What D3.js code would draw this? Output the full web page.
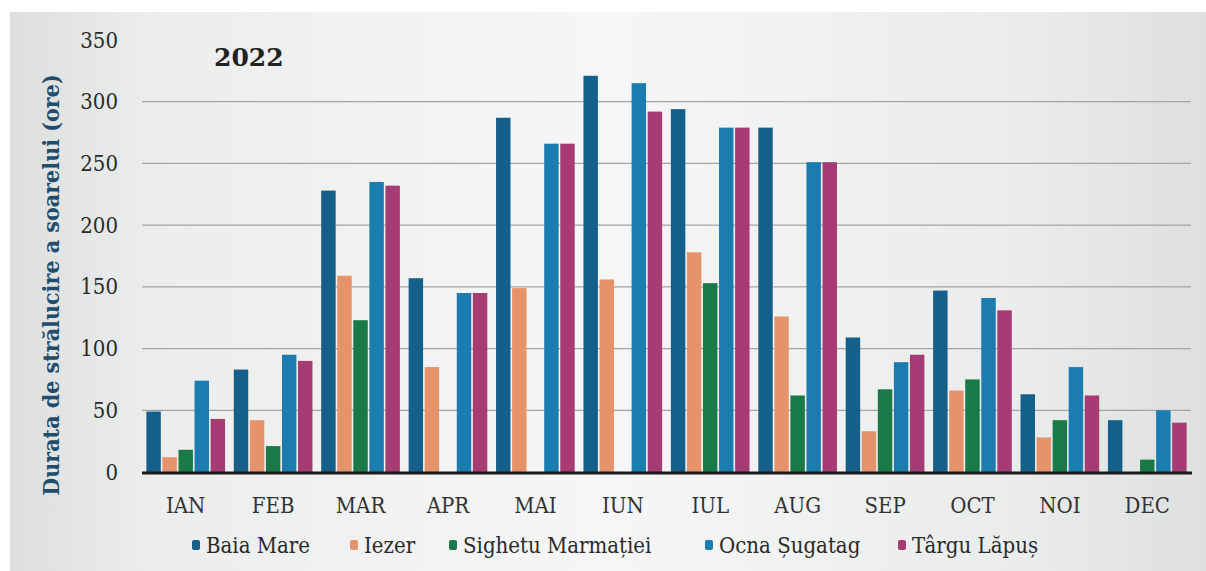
<!DOCTYPE html>
<html lang="ro">
<head>
<meta charset="utf-8">
<title>Durata de strălucire a soarelui 2022</title>
<script src="https://cdn.jsdelivr.net/npm/d3@7"></script>
<style>
  body { margin: 0; background: #ffffff; }
  svg { display: block; }
</style>
</head>
<body>
<script>
// categories
var luni = ["IAN", "FEB", "MAR", "APR", "MAI", "IUN", "IUL", "AUG", "SEP", "OCT", "NOI", "DEC"];
var statii = ["Baia Mare", "Iezer", "Sighetu Marmației", "Ocna Șugatag", "Târgu Lăpuș"];

// series values (ore)
var baiaMare   = [49, 83, 228, 157, 287, 321, 294, 279, 109, 147, 63, 42];
var iezer      = [12, 42, 159, 85, 149, 156, 178, 126, 33, 66, 28, 0];
var sighetu    = [18, 21, 123, 0, 0, 0, 153, 62, 67, 75, 42, 10];
var ocna       = [74, 95, 235, 145, 266, 315, 279, 251, 89, 141, 85, 50];
var targuLapus = [43, 90, 232, 145, 266, 292, 279, 251, 95, 131, 62, 40];

var yTicks = [0, 50, 100, 150, 200, 250, 300, 350];
var culori = ["#15608b", "#e6936b", "#1a7a47", "#1b7cb0", "#a73b73"];

var serii = [baiaMare, iezer, sighetu, ocna, targuLapus];

var w = 1206, h = 571;
var font = "'DejaVu Serif Condensed', 'DejaVu Serif', serif";

var svg = d3.select("body").append("svg")
  .attr("width", w)
  .attr("height", h);

// scanned-page look
var defs = svg.append("defs");
var grad = defs.append("linearGradient").attr("id", "fundal").attr("x1", "0").attr("x2", "1");
grad.append("stop").attr("offset", "0").attr("stop-color", "#dcdfde");
grad.append("stop").attr("offset", "0.12").attr("stop-color", "#eceeed");
grad.append("stop").attr("offset", "0.5").attr("stop-color", "#f5f6f5");
grad.append("stop").attr("offset", "0.85").attr("stop-color", "#eaeceb");
grad.append("stop").attr("offset", "1").attr("stop-color", "#dde0df");

svg.append("rect").attr("x", 10).attr("y", 12).attr("width", w - 10).attr("height", h - 12)
  .attr("fill", "url(#fundal)");

var x = d3.scaleBand()
  .domain(luni)
  .range([142, 1191])
  .paddingInner(0.1)
  .paddingOuter(0.05);

var xs = d3.scaleBand()
  .domain(d3.range(statii.length))
  .range([0, x.bandwidth()])
  .paddingInner(0.1);

var y = d3.scaleLinear()
  .domain([0, 350])
  .range([472, 40]);

// gridlines + y labels
var yAxis = d3.axisLeft(y)
  .tickValues(yTicks)
  .tickSize(0)
  .tickPadding(0);

var gy = svg.append("g")
  .attr("transform", "translate(118,0)")
  .call(yAxis);
gy.select(".domain").remove();
gy.selectAll("text")
  .attr("font-family", font)
  .attr("font-size", 22)
  .attr("fill", "#2b2b2b");

svg.append("g").selectAll("line")
  .data(yTicks.filter(function(d) { return d > 0 && d < 350; }))
  .enter().append("line")
  .attr("x1", 142).attr("x2", 1191)
  .attr("y1", function(d) { return y(d); })
  .attr("y2", function(d) { return y(d); })
  .attr("stroke", "#a3a5a5")
  .attr("stroke-width", 1.2);

// bars
var grupuri = svg.append("g").selectAll("g")
  .data(luni)
  .enter().append("g")
  .attr("transform", function(d) { return "translate(" + x(d) + ",0)"; });

grupuri.selectAll("rect")
  .data(function(d, i) { return serii.map(function(s, j) { return { k: j, v: s[i] }; }); })
  .enter().append("rect")
  .attr("x", function(d) { return xs(d.k); })
  .attr("y", function(d) { return y(d.v); })
  .attr("width", xs.bandwidth())
  .attr("height", function(d) { return y(0) - y(d.v); })
  .attr("fill", function(d) { return culori[d.k]; });

// baseline
svg.append("line")
  .attr("x1", 142).attr("x2", 1192)
  .attr("y1", y(0) + 1).attr("y2", y(0) + 1)
  .attr("stroke", "#1a1a1a")
  .attr("stroke-width", 3);

// x labels
var xAxis = d3.axisBottom(x).tickSize(0).tickPadding(0);
var gx = svg.append("g")
  .attr("transform", "translate(0,496)")
  .call(xAxis);
gx.select(".domain").remove();
gx.selectAll("text")
  .attr("dy", "0.75em")
  .attr("font-family", font)
  .attr("font-size", 22)
  .attr("fill", "#333333");

// y title
svg.append("text")
  .attr("transform", "translate(59,285) rotate(-90)")
  .attr("text-anchor", "middle")
  .attr("font-family", font)
  .attr("font-weight", "bold")
  .attr("font-size", 23)
  .attr("fill", "#1f4d6b")
  .text("Durata de strălucire a soarelui (ore)");

// chart label
svg.append("text")
  .attr("x", 214).attr("y", 66)
  .attr("font-family", "'DejaVu Serif', serif")
  .attr("font-weight", "bold")
  .attr("font-size", 25)
  .attr("fill", "#222222")
  .text("2022");

// legend
var legX = [192, 350, 449, 705, 898];
var leg = svg.append("g").selectAll("g")
  .data(statii)
  .enter().append("g")
  .attr("transform", function(d, i) { return "translate(" + legX[i] + ",545)"; });

leg.append("rect")
  .attr("x", 0).attr("y", -5)
  .attr("width", 8).attr("height", 10)
  .attr("rx", 2)
  .attr("fill", function(d, i) { return culori[i]; });

leg.append("text")
  .attr("x", 14).attr("y", 0)
  .attr("dy", "0.35em")
  .attr("font-family", font)
  .attr("font-size", 22)
  .attr("fill", "#2a2a2a")
  .text(function(d) { return d; });
</script>
</body>
</html>
